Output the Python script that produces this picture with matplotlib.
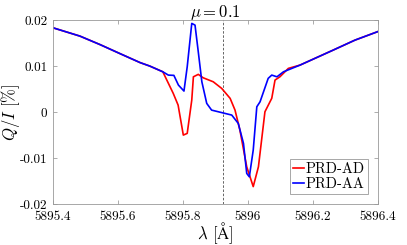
import numpy as np
import matplotlib
matplotlib.use("Agg")
import matplotlib.pyplot as plt

# wavelength [A] and Q/I [%]
lam_shared_left = [5895.400, 5895.483, 5895.545, 5895.606, 5895.668, 5895.698, 5895.738]
q_shared_left = [0.01833, 0.01652, 0.01467, 0.01272, 0.01076, 0.01000, 0.00876]

lam_shared_right = [5896.160, 5896.262, 5896.329, 5896.400]
q_shared_right = [0.01022, 0.01348, 0.01565, 0.01752]

lam_ad = [5895.770, 5895.785, 5895.801, 5895.813, 5895.827, 5895.832, 5895.847,
          5895.862, 5895.893, 5895.919, 5895.945, 5895.960, 5895.975, 5895.996,
          5896.016, 5896.032, 5896.052, 5896.073, 5896.083, 5896.098, 5896.124]
q_ad = [0.00407, 0.00152, -0.00500, -0.00463, 0.00261, 0.00767, 0.00820,
        0.00746, 0.00659, 0.00515, 0.00298, 0.00043, -0.00391, -0.01189,
        -0.01620, -0.01189, 0.00007, 0.00300, 0.00696, 0.00767, 0.00950]

lam_aa = [5895.755, 5895.772, 5895.786, 5895.803, 5895.813, 5895.827, 5895.837,
          5895.847, 5895.858, 5895.873, 5895.888, 5895.919, 5895.950, 5895.970,
          5895.986, 5895.996, 5896.004, 5896.016, 5896.027, 5896.037, 5896.062,
          5896.073, 5896.089, 5896.109]
q_aa = [0.00804, 0.00798, 0.00587, 0.00457, 0.00985, 0.01928, 0.01891,
        0.01311, 0.00659, 0.00189, 0.00043, -0.00011, -0.00065, -0.00246,
        -0.00680, -0.01333, -0.01407, -0.00826, 0.00115, 0.00224, 0.00733,
        0.00804, 0.00767, 0.00876]

line_center = 5895.924
mu_label = r"$\mu = 0.1$"

xticks = [5895.4, 5895.6, 5895.8, 5896.0, 5896.2, 5896.4]
xticklabels = ["5895.4", "5895.6", "5895.8", "5896", "5896.2", "5896.4"]
yticks = [-0.02, -0.01, 0.0, 0.01, 0.02]
yticklabels = ["-0.02", "-0.01", "0", "0.01", "0.02"]

plt.rcParams["font.family"] = "serif"
plt.rcParams["font.serif"] = ["cmr10", "DejaVu Serif"]
plt.rcParams["mathtext.fontset"] = "cm"
plt.rcParams["axes.unicode_minus"] = False

lam_ad_full = lam_shared_left + lam_ad + lam_shared_right
q_ad_full = q_shared_left + q_ad + q_shared_right
lam_aa_full = lam_shared_left + lam_aa + lam_shared_right
q_aa_full = q_shared_left + q_aa + q_shared_right

fig = plt.figure(figsize=(4.07, 2.45), dpi=100)
ax = fig.add_axes([0.130, 0.167, 0.799, 0.751])

ax.axvline(line_center, color="0.3", lw=0.6, ls=(0, (3, 2)))
ax.plot(lam_ad_full, q_ad_full, color="red", lw=1.2, label="PRD-AD")
ax.plot(lam_aa_full, q_aa_full, color="blue", lw=1.2, label="PRD-AA")

ax.set_xlim(5895.4, 5896.4)
ax.set_ylim(-0.02, 0.02)
ax.set_xticks(xticks)
ax.set_xticklabels(xticklabels, fontsize=9.5)
ax.set_yticks(yticks)
ax.set_yticklabels(yticklabels, fontsize=9.5)
ax.tick_params(axis="x", pad=5)
ax.tick_params(axis="y", pad=4)
ax.tick_params(direction="in", length=3, width=0.5, color="0.55",
               top=True, right=True)
for s in ax.spines.values():
    s.set_color("0.6")
    s.set_linewidth(0.6)

ax.set_title(mu_label, fontsize=12, pad=2)
ax.set_xlabel(r"$\lambda$ [$\mathrm{\AA}$]", fontsize=12)
ax.set_ylabel(r"$Q/I$ [%]", fontsize=12, va="center")
ax.xaxis.set_label_coords(0.5, -0.09)
ax.yaxis.set_label_coords(-0.13, 0.5)

leg = ax.legend(loc="lower right", fontsize=10.5, handlelength=0.8,
                handletextpad=0.1, borderpad=0.2, labelspacing=0.1,
                fancybox=False, framealpha=1, borderaxespad=0.7)
leg.get_frame().set_edgecolor("0.6")
leg.get_frame().set_linewidth(0.6)

fig.savefig("out.png", dpi=100)
